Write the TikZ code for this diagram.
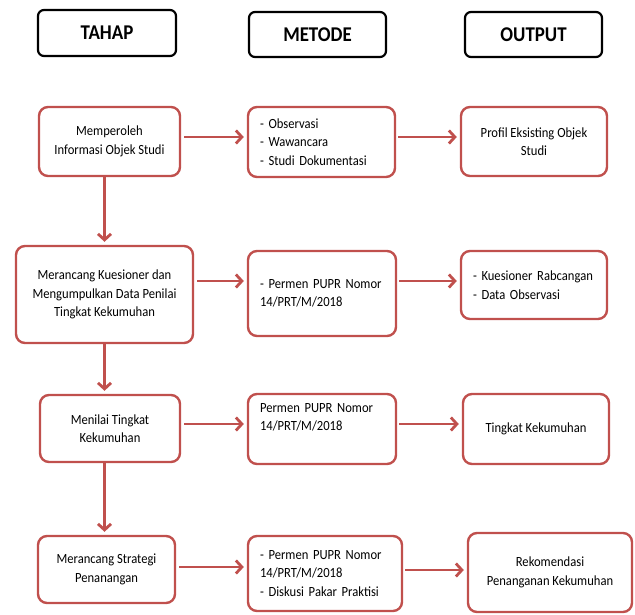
\documentclass[tikz,border=0pt]{standalone}
\usepackage{fontspec}
\setmainfont{Carlito}[FakeStretch = 0.9]
\usetikzlibrary{arrows.meta}
\definecolor{boxred}{RGB}{192,80,77}

\begin{document}
\begin{tikzpicture}[x = 1pt, y = -1pt]
\tikzstyle{head}=[draw = black, line width = 2.2pt, rounded corners = 6pt, font = \fontsize{21}{25}\selectfont\bfseries]
\tikzstyle{box}=[draw = boxred, line width = 2.4pt, rounded corners = 9pt, inner sep = 0pt, align = center, font = \fontsize{14}{18.5}\selectfont]
\tikzstyle{list}=[box, align = left, inner xsep = 12pt]
\tikzstyle{arrow}=[-{Straight Barb[length = 6pt, width = 13pt]}, draw = boxred, line width = 2.8pt, shorten >= 3pt]

\useasboundingbox (0, 0) rectangle (635, 614);

\node[head, minimum width = 138pt, minimum height = 46pt] (tahap) at (107, 33) {TAHAP};
\node[head, minimum width = 137pt, minimum height = 45pt] (metode) at (317.5, 34.5) {METODE};
\node[head, minimum width = 137pt, minimum height = 45pt] (output) at (533.5, 34.5) {OUTPUT};

% tahap
\node[box, minimum width = 141pt, minimum height = 69pt] (a1) at (109.5, 141.5) {Memperoleh\\Informasi Objek Studi};
\node[box, minimum width = 177pt, minimum height = 97pt] (a2) at (104.5, 294.5) {Merancang Kuesioner dan\\Mengumpulkan Data Penilai\\Tingkat Kekumuhan};
\node[box, minimum width = 140pt, minimum height = 67pt] (a3) at (110, 428.5) {Menilai Tingkat\\Kekumuhan};
\node[box, minimum width = 137pt, minimum height = 67pt] (a4) at (106.5, 569.5) {Merancang Strategi\\Penanangan};

% metode
\node[list, text width = 123pt, minimum width = 147pt, minimum height = 70pt] (b1) at (321.5, 142) {- Observasi\\- Wawancara\\- Studi Dokumentasi};
\node[list, text width = 124pt, minimum width = 148pt, minimum height = 85pt] (b2) at (322, 293.5) {- Permen PUPR Nomor\\14/PRT/M/2018};
\node[list, text width = 124pt, minimum width = 148pt, minimum height = 70pt] (b3) at (322, 429) {Permen PUPR Nomor\\14/PRT/M/2018\\\strut};
\node[list, text width = 130pt, minimum width = 154pt, minimum height = 75pt] (b4) at (325, 573.5) {- Permen PUPR Nomor\\14/PRT/M/2018\\- Diskusi Pakar Praktisi};

% output
\node[box, minimum width = 146pt, minimum height = 69pt] (c1) at (534, 141.5) {Profil Eksisting Objek\\Studi};
\node[list, text width = 122pt, minimum width = 146pt, minimum height = 68pt] (c2) at (534, 285) {- Kuesioner Rabcangan\\- Data Observasi};
\node[box, minimum width = 146pt, minimum height = 70pt] (c3) at (536, 429) {Tingkat Kekumuhan};
\node[box, minimum width = 164pt, minimum height = 79pt] (c4) at (550, 572.5) {Rekomendasi\\Penanganan Kekumuhan};

\draw[arrow] (a1.south -| a2.north) -- (a2.north);
\draw[arrow] (a2.south) -- (a2.south |- a3.north);
\draw[arrow] (a3.south -| a2.south) -- (a4.north -| a2.south);

\draw[arrow, shorten <= 3pt] ([yshift = 4.5pt]a1.east) -- ([yshift = 4.5pt]a1.east -| b1.west);
\draw[arrow, shorten <= 2pt] ([yshift = 5pt]b1.east) -- ([yshift = 5pt]b1.east -| c1.west);

\draw[arrow, shorten <= 3pt] ([yshift = 13.5pt]a2.east) -- ([yshift = 13.5pt]a2.east -| b2.west);
\draw[arrow, shorten <= 2pt] ([yshift = 12.5pt]b2.east) -- ([yshift = 12.5pt]b2.east -| c2.west);

\draw[arrow, shorten <= 3pt] ([yshift = 4.5pt]a3.east) -- ([yshift = 4.5pt]a3.east -| b3.west);
\draw[arrow, shorten <= 2pt] ([yshift = 5pt]b3.east) -- ([yshift = 5pt]b3.east -| c3.west);

\draw[arrow, shorten <= 3pt] ([yshift = 2.5pt]a4.east) -- ([yshift = 2.5pt]a4.east -| b4.west);
\draw[arrow, shorten <= 2pt] ([yshift = 3.5pt]b4.east) -- ([yshift = 3.5pt]b4.east -| c4.west);

\end{tikzpicture}
\end{document}
